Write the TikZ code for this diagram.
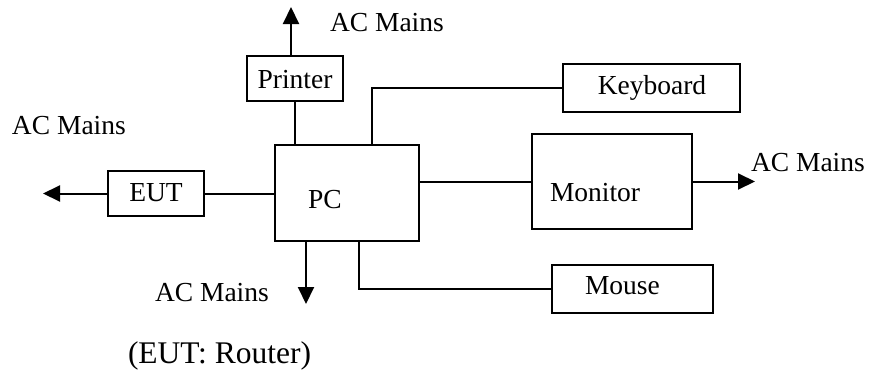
\documentclass[tikz,border=0pt]{standalone}
\usepackage{fontspec}
\setmainfont{Liberation Serif}
\usetikzlibrary{arrows.meta}
\begin{document}
\begin{tikzpicture}[x=1pt,y=-1pt,
  box/.style={draw, line width=2pt, rectangle, inner sep=0pt, outer sep=0pt},
  conn/.style={line width=2pt},
  arr/.style={conn, -{Triangle[length=17pt,width=16pt]}},
  lbl/.style={inner sep=0pt, outer sep=0pt, font=\fontsize{27.5}{30}\selectfont},
  bigl/.style={inner sep=0pt, outer sep=0pt, font=\fontsize{31.5}{34}\selectfont}]
\useasboundingbox (0,0) rectangle (872,372);
% boxes
\node[box, minimum width=96pt, minimum height=45pt] (printer) at (295,78.5) {};
\node[box, minimum width=177pt, minimum height=48pt] (kbd) at (651.5,88) {};
\node[box, minimum width=144pt, minimum height=96pt] (pc) at (347,193) {};
\node[box, minimum width=160pt, minimum height=95pt] (mon) at (612,181.5) {};
\node[box, minimum width=161pt, minimum height=48pt] (mouse) at (632.5,289) {};
\node[box, minimum width=96pt, minimum height=45pt] (eut) at (156,193.5) {};
% box texts
\node[lbl, anchor=base] (printerT) at (295,88) {Printer};
\node[lbl, anchor=base] (kbdT) at (652,94) {Keyboard};
\node[lbl, anchor=base west] (pcT) at (308,208) {PC};
\node[lbl, anchor=base west] (monT) at (550,201) {Monitor};
\node[lbl, anchor=base west] (mouseT) at (585,294) {Mouse};
\node[lbl, anchor=base] (eutT) at (156,201) {EUT};
% free labels
\node[lbl, anchor=base west] (acTop) at (330,31) {AC Mains};
\node[lbl, anchor=base west] (acLeft) at (12,134) {AC Mains};
\node[lbl, anchor=base west] (acRight) at (751,171) {AC Mains};
\node[lbl, anchor=base west] (acBottom) at (155,301) {AC Mains};
\node[bigl, anchor=base west] (note) at (128,363) {(EUT: Router)};
% arrow end points
\coordinate (pA) at (291,7);
\coordinate (mA) at (755,181.5);
\coordinate (eA) at (43,193.5);
\coordinate (bA) at (306,304);
\coordinate (kX) at (372,0);
\coordinate (mX) at (359,0);
% connectors
\draw[arr] (pA |- printer.north) -- (pA);
\draw[conn] (printer.south) -- (printer.south |- pc.north);
\draw[conn] (kX |- pc.north) |- (kbd.west);
\draw[conn] (mon.west -| pc.east) -- (mon.west);
\draw[arr] (mon.east) -- (mA);
\draw[conn] (eut.east) -- (eut.east -| pc.west);
\draw[arr] (eut.west) -- (eA);
\draw[arr] (bA |- pc.south) -- (bA);
\draw[conn] (mX |- pc.south) |- (mouse.west);
\end{tikzpicture}
\end{document}
